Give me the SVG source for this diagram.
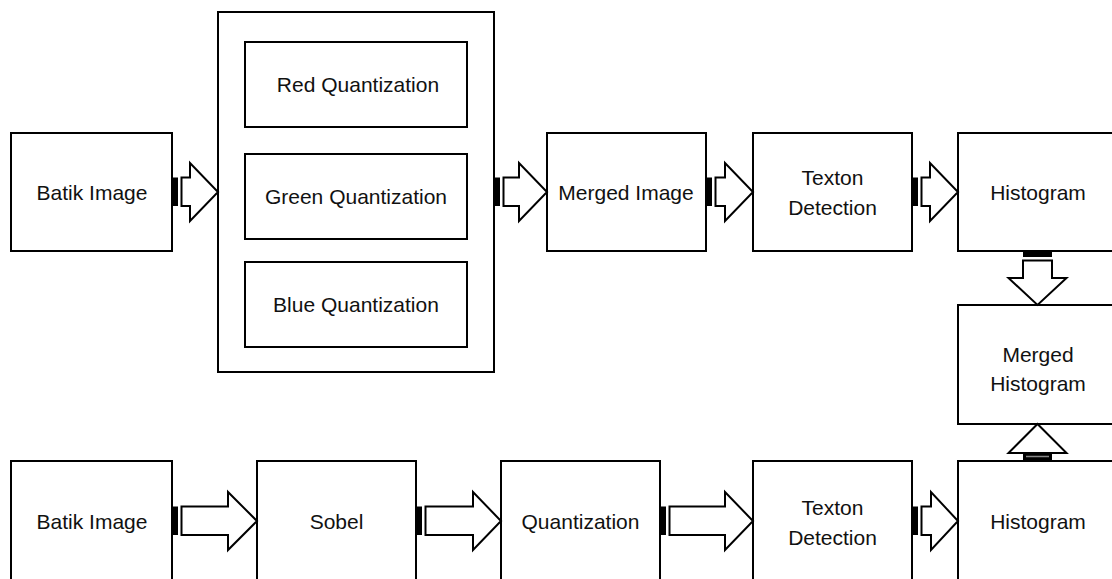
<svg xmlns="http://www.w3.org/2000/svg" width="1112" height="579" viewBox="0 0 1112 579">
<style>
.box{fill:#fff;stroke:#000;stroke-width:2}
.lbl{font-family:"Liberation Sans",Arial,sans-serif;font-size:21px;fill:#111;text-anchor:middle;dominant-baseline:central}
.bar{fill:#000}
.arr{fill:#fff;stroke:#000;stroke-width:2;stroke-linejoin:miter}
</style>
<rect width="1112" height="579" fill="#fff"/>
<g id="batik1"><rect class="box" x="11" y="133" width="161" height="118"/><text class="lbl" x="92" y="192">Batik Image</text></g>
<g id="quant-group"><rect class="box" x="218" y="12" width="276" height="360"/></g>
<g id="red"><rect class="box" x="245" y="42" width="222" height="85"/><text class="lbl" x="358" y="84.5">Red Quantization</text></g>
<g id="green"><rect class="box" x="245" y="154" width="222" height="85"/><text class="lbl" x="356" y="196.5">Green Quantization</text></g>
<g id="blue"><rect class="box" x="245" y="262" width="222" height="85"/><text class="lbl" x="356" y="304.5">Blue Quantization</text></g>
<g id="merged-image"><rect class="box" x="547" y="133" width="159" height="118"/><text class="lbl" x="626" y="192">Merged Image</text></g>
<g id="texton1"><rect class="box" x="753" y="133" width="159" height="118"/><text class="lbl" x="832.5" y="177">Texton</text><text class="lbl" x="832.5" y="207">Detection</text></g>
<g id="hist1"><rect class="box" x="958" y="133" width="159" height="118"/><text class="lbl" x="1038" y="192">Histogram</text></g>
<g id="merged-hist"><rect class="box" x="958" y="305" width="159" height="119"/><text class="lbl" x="1038" y="354">Merged</text><text class="lbl" x="1038" y="383">Histogram</text></g>
<g id="batik2"><rect class="box" x="11" y="461" width="161" height="121"/><text class="lbl" x="92" y="521">Batik Image</text></g>
<g id="sobel"><rect class="box" x="257" y="461" width="159" height="121"/><text class="lbl" x="336.5" y="521">Sobel</text></g>
<g id="quantization"><rect class="box" x="501" y="461" width="159" height="121"/><text class="lbl" x="580.5" y="521">Quantization</text></g>
<g id="texton2"><rect class="box" x="753" y="461" width="159" height="121"/><text class="lbl" x="832.5" y="507">Texton</text><text class="lbl" x="832.5" y="537">Detection</text></g>
<g id="hist2"><rect class="box" x="958" y="461" width="159" height="121"/><text class="lbl" x="1038" y="521">Histogram</text></g>
<g id="connectors">
<rect class="bar" x="172" y="177.5" width="6" height="28.5"/><path class="arr" d="M181.5,177.5 H190 V163 L218,192 L190,221 V206 H181.5 Z"/>
<rect class="bar" x="494" y="177.5" width="6" height="28.5"/><path class="arr" d="M503.5,177.5 H519 V163 L547,192 L519,221 V206 H503.5 Z"/>
<rect class="bar" x="706" y="177.5" width="6" height="28.5"/><path class="arr" d="M715.5,177.5 H725 V163 L753,192 L725,221 V206 H715.5 Z"/>
<rect class="bar" x="912" y="177.5" width="6" height="28.5"/><path class="arr" d="M921.5,177.5 H930 V163 L958,192 L930,221 V206 H921.5 Z"/>
<rect class="bar" x="172" y="506.5" width="6" height="28.5"/><path class="arr" d="M181.5,506.5 H228 V492 L257,521 L228,550 V535 H181.5 Z"/>
<rect class="bar" x="416" y="506.5" width="6" height="28.5"/><path class="arr" d="M425.5,506.5 H473 V492 L501,521 L473,550 V535 H425.5 Z"/>
<rect class="bar" x="660" y="506.5" width="6" height="28.5"/><path class="arr" d="M669.5,506.5 H725 V492 L753,521 L725,550 V535 H669.5 Z"/>
<rect class="bar" x="912" y="506.5" width="6" height="28.5"/><path class="arr" d="M921.5,506.5 H931 V492 L958,521 L931,550 V535 H921.5 Z"/>
<rect class="bar" x="1023" y="251" width="29" height="6"/><path class="arr" d="M1023,260.5 V278 H1008.5 L1037.5,305 L1066.5,278 H1052 V260.5 Z"/>
<path class="arr" d="M1023,453 H1008.5 L1037.5,424 L1066.5,453 H1052 Z"/>
<rect class="bar" x="1023" y="452" width="29" height="9"/><line x1="1026" y1="456.5" x2="1049" y2="456.5" stroke="#888" stroke-width="1.5"/>
</g>
</svg>
